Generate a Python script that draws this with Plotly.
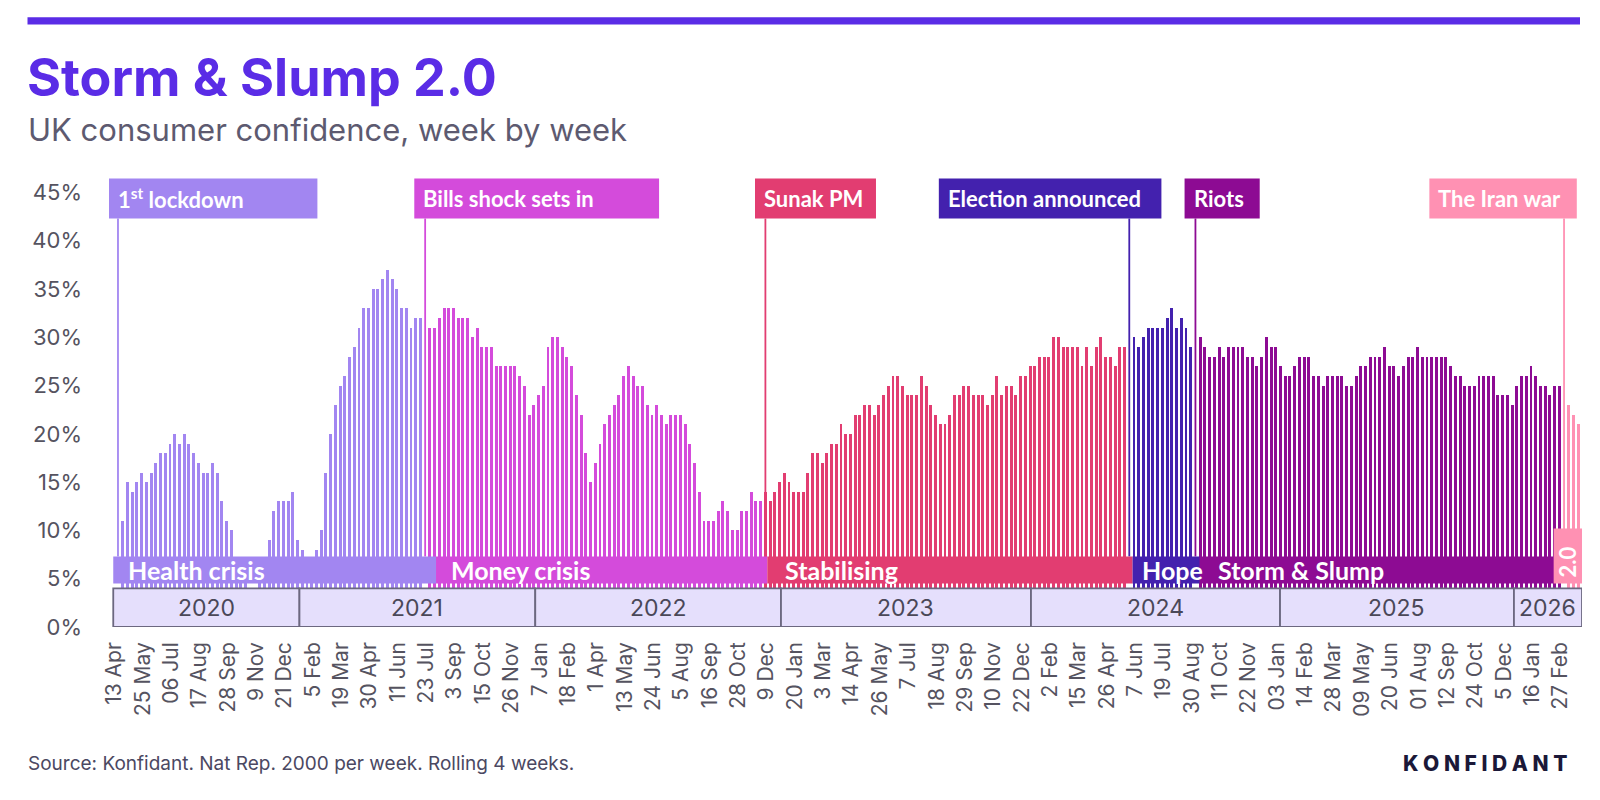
import plotly.graph_objects as go

# ---------------- DATA ----------------
# Weekly UK consumer confidence (%), rolling 4 weeks; week index 0 = 13 Apr 2020.
# None = no bar drawn (week occupied by an event marker)
confidence = [
    11, 15, 14, 15, 16, 15, 16, 17, 18, 18, 19, 20, 19, 20, 19, 18, 17, 16, 16, 17,
    16, 13, 11, 10, 7, 6, 5, 3, 3, 5, 7, 9, 12, 13, 13, 13, 14, 9, 8, 6,
    6, 8, 10, 16, 20, 23, 25, 26, 28, 29, 31, 33, 33, 35, 35, 36, 37, 36, 35, 33,
    33, 31, 32, 32, None, 31, 31, 32, 33, 33, 33, 32, 32, 32, 30, 31, 29, 29, 29, 27,
    27, 27, 27, 27, 26, 25, 22, 23, 24, 25, 29, 30, 30, 29, 28, 27, 24, 22, 18, 15,
    17, 19, 21, 22, 23, 24, 26, 27, 26, 25, 25, 23, 22, 23, 22, 21, 22, 22, 22, 21,
    19, 17, 14, 11, 11, 11, 12, 13, 12, 10, 10, 12, 12, 14, 13, 13, 14, 13, 14, 15,
    16, 15, 14, 14, 14, 16, 18, 18, 17, 18, 19, 19, 21, 20, 20, 22, 22, 23, 23, 22,
    23, 24, 25, 26, 26, 25, 24, 24, 24, 26, 25, 23, 22, 21, 21, 22, 24, 24, 25, 25,
    24, 24, 24, 23, 24, 26, 24, 25, 25, 24, 26, 26, 27, 27, 28, 28, 28, 30, 30, 29,
    29, 29, 29, 27, 29, 27, 29, 30, 28, 28, 27, 29, 29, None, 30, 29, 30, 31, 31, 31,
    31, 32, 33, 31, 32, 31, 29, None, 30, 29, 28, 28, 29, 28, 29, 29, 29, 29, 28, 28,
    27, 28, 30, 29, 29, 27, 26, 26, 27, 28, 28, 28, 26, 26, 25, 26, 26, 26, 26, 25,
    25, 26, 27, 27, 28, 28, 28, 29, 27, 27, 26, 27, 28, 28, 29, 28, 28, 28, 28, 28,
    28, 27, 26, 26, 25, 25, 25, 26, 26, 26, 26, 24, 24, 24, 23, 25, 26, 26, 27, 26,
    25, 25, 24, 25, 25, None, 23, 22, 21,
]
weeks = list(range(len(confidence)))

# Tick labels, one every 6 weeks
tick_labels = [
    "13 Apr", "25 May", "06 Jul", "17 Aug", "28 Sep", "9 Nov", "21 Dec",
    "5 Feb", "19 Mar", "30 Apr", "11 Jun", "23 Jul", "3 Sep", "15 Oct", "26 Nov",
    "7 Jan", "18 Feb", "1 Apr", "13 May", "24 Jun", "5 Aug", "16 Sep", "28 Oct", "9 Dec",
    "20 Jan", "3 Mar", "14 Apr", "26 May", "7 Jul", "18 Aug", "29 Sep", "10 Nov", "22 Dec",
    "2 Feb", "15 Mar", "26 Apr", "7 Jun", "19 Jul", "30 Aug", "11 Oct", "22 Nov",
    "03 Jan", "14 Feb", "28 Mar", "09 May", "20 Jun", "01 Aug", "12 Sep", "24 Oct", "5 Dec",
    "16 Jan", "27 Feb",
]
tick_every = 6

# Events (week index of marker)
event_names = ["1<sup>st</sup> lockdown", "Bills shock sets in", "Sunak PM",
               "Election announced", "Riots", "The Iran war"]
event_weeks = [-1, 64, 136, 213, 227, 305]

# Phases (week-index spans)
phase_names = ["Health crisis", "Money crisis", "Stabilising", "Hope", "Storm & Slump", "2.0"]
phase_edges = [-2.0, 66.3, 136.4, 213.7, 227.9, 302.8, 308.8]

# Years (week-index spans)
years = ["2020", "2021", "2022", "2023", "2024", "2025", "2026"]
year_edges = [-2.0, 37.4, 87.3, 139.3, 192.2, 244.9, 294.4, 308.8]

y_ticks = [0, 5, 10, 15, 20, 25, 30, 35, 40, 45]

# ---------------- STYLE ----------------
palette = ["#A286F1", "#D44BDB", "#E23D71", "#4321AE", "#8D0B93", "#FF91B3"]
event_box = [(-2.9, 41.2), (61.7, 113.5), (133.8, 159.4),
             (172.7, 219.8), (224.7, 240.6), (276.5, 307.7)]
phase_text_shift = [13, 13, 16, 7, 16]
BOX_Y0, BOX_Y1 = 42.3, 46.45
BAND_Y0, BAND_Y1 = 4.5, 7.3
BAND20_Y1 = 10.2
YEAR_Y1 = 4.0

L, R, T, B = 109, 18, 178, 173
W, H = 1600, 800
PW, PH = W - L - R, H - T - B


def px_x(X):
    return (X - L) / PW


def px_y(Y):
    return (H - B - Y) / PH


def colour_for(i):
    c = palette[0]
    for k, w in enumerate(event_weeks):
        if i >= w:
            c = palette[k]
    return c


bar_colours = [colour_for(i) for i in weeks]

fig = go.Figure()
fig.add_trace(go.Bar(
    x=weeks, y=confidence, marker=dict(color=bar_colours, line=dict(width=0)),
    width=0.62, hoverinfo="skip",
))

shapes = []
annotations = []

# event lines + label boxes
for k, (name, wk) in enumerate(zip(event_names, event_weeks)):
    col = palette[k]
    shapes.append(dict(type="line", xref="x", yref="y", x0=wk, x1=wk,
                       y0=BAND_Y1, y1=BOX_Y0, line=dict(color=col, width=1.8),
                       layer="above"))
    bx0, bx1 = event_box[k]
    shapes.append(dict(type="rect", xref="x", yref="y", x0=bx0, x1=bx1,
                       y0=BOX_Y0, y1=BOX_Y1, fillcolor=col, line=dict(width=0),
                       layer="above"))
    annotations.append(dict(x=bx0, y=(BOX_Y0 + BOX_Y1) / 2, xref="x", yref="y",
                            text=name, showarrow=False, xanchor="left", yanchor="middle",
                            xshift=7, font=dict(family="Lato", size=22, color="white",
                                                weight=700)))

# phase bands
for k, name in enumerate(phase_names):
    x0, x1 = phase_edges[k], phase_edges[k + 1]
    top = BAND20_Y1 if name == "2.0" else BAND_Y1
    shapes.append(dict(type="rect", xref="x", yref="y", x0=x0, x1=x1,
                       y0=BAND_Y0, y1=top, fillcolor=palette[k], line=dict(width=0),
                       layer="above"))
    if name == "2.0":
        annotations.append(dict(x=(x0 + x1) / 2, y=6.76, xref="x", yref="y", text=name,
                                showarrow=False, textangle=-90, xanchor="center",
                                yanchor="middle",
                                font=dict(family="Lato", size=22, color="white", weight=700)))
    else:
        annotations.append(dict(x=x0, y=(BAND_Y0 + BAND_Y1) / 2 + 0.05, xref="x", yref="y",
                                text=name, showarrow=False, xanchor="left",
                                yanchor="middle", xshift=phase_text_shift[k],
                                font=dict(family="Lato", size=25, color="white", weight=700)))

# year boxes
for k, yr in enumerate(years):
    x0, x1 = year_edges[k], year_edges[k + 1]
    shapes.append(dict(type="rect", xref="x", yref="y", x0=x0, x1=x1, y0=0, y1=YEAR_Y1,
                       fillcolor="#E5DFFC", line=dict(color="#6C6880", width=1.8),
                       layer="above"))
    annotations.append(dict(x=(x0 + x1) / 2, y=YEAR_Y1 / 2, xref="x", yref="y", text=yr,
                            showarrow=False, xanchor="center", yanchor="middle",
                            font=dict(family="Inter", size=23, color="#4A4858")))

# header rule
shapes.append(dict(type="rect", xref="paper", yref="paper",
                   x0=px_x(27.5), x1=px_x(1580), y0=px_y(24.5), y1=px_y(17.3),
                   fillcolor="#5A2CE6", line=dict(width=0), layer="above"))

# titles and footer
annotations += [
    dict(x=px_x(25), y=px_y(78), xref="paper", yref="paper", text="Storm & Slump 2.0",
         showarrow=False, xanchor="left", yanchor="middle",
         font=dict(family="Inter", size=52, color="#5A2CE6", weight=700)),
    dict(x=px_x(26), y=px_y(130), xref="paper", yref="paper",
         text="UK consumer confidence, week by week", showarrow=False,
         xanchor="left", yanchor="middle",
         font=dict(family="Inter", size=31, color="#5D5A70")),
    dict(x=px_x(26), y=px_y(763), xref="paper", yref="paper",
         text="Source: Konfidant. Nat Rep. 2000 per week. Rolling 4 weeks.",
         showarrow=False, xanchor="left", yanchor="middle",
         font=dict(family="Inter", size=19, color="#4B4862")),
    dict(x=px_x(1569), y=px_y(763), xref="paper", yref="paper",
         text="K O N F I D A N T", showarrow=False, xanchor="right", yanchor="middle",
         font=dict(family="Inter", size=21, color="#1B1838", weight=800)),
]

tick_vals = [k * tick_every - 1.75 for k in range(len(tick_labels))]

fig.update_layout(
    width=W, height=H, margin=dict(l=L, r=R, t=T, b=B, pad=0),
    paper_bgcolor="white", plot_bgcolor="white", showlegend=False,
    bargap=0, shapes=shapes, annotations=annotations,
    xaxis=dict(range=[-2.9, 308.8], showgrid=False, zeroline=False, showline=False,
               tickmode="array", tickvals=tick_vals, ticktext=tick_labels,
               tickangle=-90, ticks="", ticklabelstandoff=10,
               tickfont=dict(family="Inter", size=21, color="#555360")),
    yaxis=dict(range=[0, 46.5], showgrid=False, zeroline=False, showline=False,
               tickmode="array", tickvals=y_ticks,
               ticktext=[f"{v}%" for v in y_ticks], ticks="", ticklabelstandoff=26,
               tickfont=dict(family="Inter", size=22, color="#555360")),
)

fig.write_html("out.html")
